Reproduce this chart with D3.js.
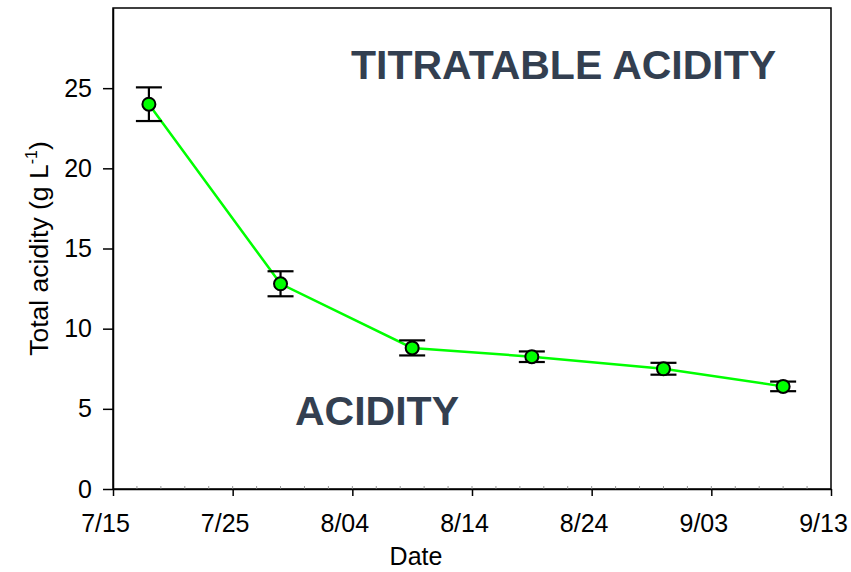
<!DOCTYPE html>
<html>
<head>
<meta charset="utf-8">
<script src="https://cdn.jsdelivr.net/npm/d3@7"></script>
<style>
  body { margin: 0; background: #fff; }
  svg text { font-family: "Liberation Sans", Arial, sans-serif; }
</style>
</head>
<body>
<div id="chart"></div>
<script>
// data
const dates = ['2010-07-18', '2010-07-29', '2010-08-09', '2010-08-19', '2010-08-30', '2010-09-09']
const acidity = [24.0, 12.8, 8.8, 8.25, 7.5, 6.4]
const errors = [1.05, 0.78, 0.47, 0.33, 0.37, 0.3]
const xTickLabels = ['7/15', '7/25', '8/04', '8/14', '8/24', '9/03', '9/13']
const yTicks = [0, 5, 10, 15, 20, 25]

const W = 851, H = 572
var margin = { top: 8, right: 20, bottom: 83, left: 113 },
    width = W - margin.left - margin.right,
    height = H - margin.top - margin.bottom;

const parse = d3.utcParse('%Y-%m-%d')
const data = dates.map((d, i) => ({ date: parse(d), value: acidity[i], err: errors[i] }))
const start = parse('2010-07-15')

var svg = d3.select('#chart')
    .append('svg')
    .attr('width', W)
    .attr('height', H)
    .append('g')
    .attr('transform', 'translate(' + margin.left + ',' + margin.top + ')')

var x = d3.scaleUtc()
    .domain([start, d3.utcDay.offset(start, 60)])
    .range([0, width])
var y = d3.scaleLinear()
    .domain([0, 30])
    .range([height, 0])

// frame
svg.append('rect')
    .attr('width', width).attr('height', height)
    .attr('fill', 'none').attr('stroke', '#000').attr('stroke-width', 1.5)

// minor x ticks every 2 days
const minor = d3.range(1, 30).map(i => d3.utcDay.offset(start, i * 2))
svg.append('g').selectAll('line')
    .data(minor)
    .enter().append('line')
    .attr('x1', d => x(d)).attr('x2', d => x(d))
    .attr('y1', height - 3).attr('y2', height + 1)
    .attr('stroke', '#999').attr('stroke-width', 1)

// x axis, major tick every 10 days
const xTickDates = xTickLabels.map((l, i) => d3.utcDay.offset(start, i * 10))
var xAxis = svg.append('g')
    .attr('transform', 'translate(0,' + height + ')')
    .call(d3.axisBottom(x).tickValues(xTickDates).tickSize(7).tickSizeOuter(0)
        .tickFormat((d, i) => xTickLabels[i]))
xAxis.select('.domain').attr('stroke-width', 1.5)
xAxis.selectAll('.tick line').attr('stroke-width', 1.5)
xAxis.selectAll('.tick text')
    .attr('font-size', 25).attr('fill', '#000')
    .attr('dy', null).attr('y', 43).attr('dx', -8)

// y axis
var yAxis = svg.append('g')
    .call(d3.axisLeft(y).tickValues(yTicks).tickSize(10).tickSizeOuter(0))
yAxis.select('.domain').attr('stroke-width', 1.5)
yAxis.selectAll('.tick line').attr('stroke-width', 1.5)
yAxis.selectAll('.tick text')
    .attr('font-size', 25).attr('fill', '#000').attr('x', -21)

// axis titles
svg.append('text')
    .attr('x', 416 - margin.left).attr('y', 565 - margin.top)
    .attr('text-anchor', 'middle').attr('font-size', 25)
    .text('Date')

const yTitle = svg.append('text')
    .attr('transform', 'translate(' + (48 - margin.left) + ',' + (height / 2) + ') rotate(-90)')
    .attr('text-anchor', 'middle').attr('font-size', 26.5)
yTitle.append('tspan').text('Total acidity (g L')
yTitle.append('tspan').attr('font-size', 16).attr('dy', -11).text('-1')
yTitle.append('tspan').attr('dy', 11).text(')')

// line
svg.append('path')
    .datum(data)
    .attr('fill', 'none')
    .attr('stroke', '#00ff00')
    .attr('stroke-width', 2.5)
    .attr('d', d3.line().x(d => x(d.date)).y(d => y(d.value)))

// error bars
const eb = svg.append('g').attr('stroke', '#000').attr('stroke-width', 2.2)
eb.selectAll('.v').data(data).enter().append('line')
    .attr('x1', d => x(d.date)).attr('x2', d => x(d.date))
    .attr('y1', d => y(d.value + d.err)).attr('y2', d => y(d.value - d.err))
eb.selectAll('.top').data(data).enter().append('line')
    .attr('x1', d => x(d.date) - 13).attr('x2', d => x(d.date) + 13)
    .attr('y1', d => y(d.value + d.err)).attr('y2', d => y(d.value + d.err))
eb.selectAll('.bot').data(data).enter().append('line')
    .attr('x1', d => x(d.date) - 13).attr('x2', d => x(d.date) + 13)
    .attr('y1', d => y(d.value - d.err)).attr('y2', d => y(d.value - d.err))

// points
svg.selectAll('circle')
    .data(data)
    .enter().append('circle')
    .attr('cx', d => x(d.date)).attr('cy', d => y(d.value))
    .attr('r', 6.5)
    .attr('fill', '#00ff00').attr('stroke', '#000').attr('stroke-width', 2)

// big labels
svg.append('text')
    .attr('x', 351 - margin.left).attr('y', 79 - margin.top)
    .attr('font-size', 41).attr('font-weight', 'bold').attr('fill', '#333f50')
    .text('TITRATABLE ACIDITY')
svg.append('text')
    .attr('x', 295 - margin.left).attr('y', 425 - margin.top)
    .attr('font-size', 41).attr('font-weight', 'bold').attr('fill', '#333f50')
    .text('ACIDITY')
</script>
</body>
</html>
